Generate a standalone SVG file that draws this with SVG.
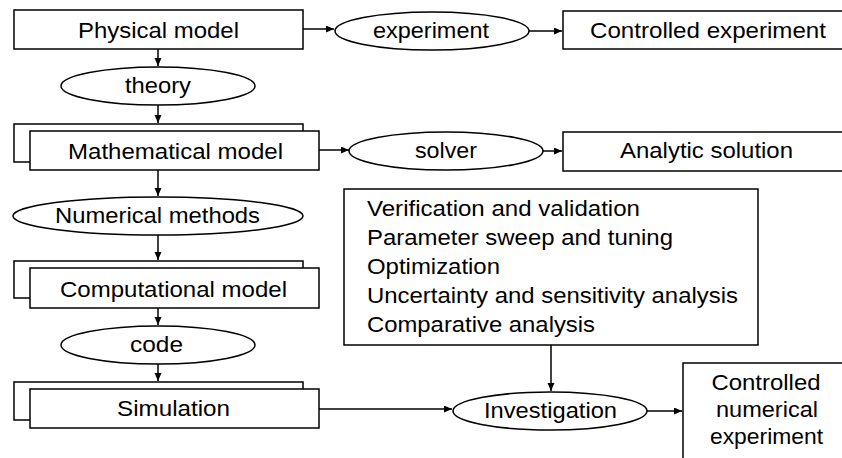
<svg xmlns="http://www.w3.org/2000/svg" width="842" height="458" viewBox="0 0 842 458">
<defs>
<marker id="ah" markerUnits="userSpaceOnUse" markerWidth="9" markerHeight="8" refX="8" refY="3.5" orient="auto">
<path d="M0,0 L8,3.5 L0,7 z" fill="#000"/>
</marker>
<style>
.n rect, .n ellipse { fill: #fff; stroke: #000; stroke-width: 1.5; }
text { font-family: "Liberation Sans", Arial, sans-serif; font-size: 22px; fill: #000; text-anchor: middle; }
text.l { text-anchor: start; }
.c path { fill: none; stroke: #000; stroke-width: 1.5; marker-end: url(#ah); }
</style>
</defs>
<rect x="0" y="0" width="842" height="458" fill="#fff"/>

<g class="c" id="connectors">
<path d="M303,29 H334"/>
<path d="M529,31 H562"/>
<path d="M158,49 V66"/>
<path d="M158,105 V123"/>
<path d="M319,150 H349"/>
<path d="M543,151 H562"/>
<path d="M158,170 V196"/>
<path d="M158,235 V260"/>
<path d="M158,308 V325"/>
<path d="M158,364 V381"/>
<path d="M319,409 H452"/>
<path d="M551,345 V391"/>
<path d="M647,411 H682"/>
</g>

<g class="n" id="physical">
<rect x="14" y="10" width="289" height="39"/>
<text x="158.5" y="38" textLength="161" lengthAdjust="spacingAndGlyphs">Physical model</text>
</g>
<g class="n" id="experiment">
<ellipse cx="432" cy="31" rx="97" ry="19"/>
<text x="431" y="38" textLength="116" lengthAdjust="spacingAndGlyphs">experiment</text>
</g>
<g class="n" id="controlled">
<rect x="563" y="11" width="289" height="38"/>
<text x="708" y="38" textLength="236" lengthAdjust="spacingAndGlyphs">Controlled experiment</text>
</g>
<g class="n" id="theory">
<ellipse cx="158" cy="86" rx="97" ry="19"/>
<text x="158" y="93" textLength="66" lengthAdjust="spacingAndGlyphs">theory</text>
</g>
<g class="n" id="mathematical">
<rect x="14" y="124" width="289" height="38"/>
<rect x="30" y="131" width="289" height="39"/>
<text x="175.5" y="159" textLength="215" lengthAdjust="spacingAndGlyphs">Mathematical model</text>
</g>
<g class="n" id="solver">
<ellipse cx="446" cy="151" rx="97" ry="19"/>
<text x="446" y="158" textLength="62" lengthAdjust="spacingAndGlyphs">solver</text>
</g>
<g class="n" id="analytic">
<rect x="563" y="132" width="289" height="39"/>
<text x="706.5" y="158" textLength="173" lengthAdjust="spacingAndGlyphs">Analytic solution</text>
</g>
<g class="n" id="numerical">
<ellipse cx="158" cy="216" rx="145" ry="19"/>
<text x="157.5" y="223" textLength="205" lengthAdjust="spacingAndGlyphs">Numerical methods</text>
</g>
<g class="n" id="computational">
<rect x="14" y="261" width="289" height="37"/>
<rect x="30" y="268" width="289" height="40"/>
<text x="173.5" y="297" textLength="227" lengthAdjust="spacingAndGlyphs">Computational model</text>
</g>
<g class="n" id="code">
<ellipse cx="158" cy="345" rx="97" ry="19"/>
<text x="156.5" y="352" textLength="53" lengthAdjust="spacingAndGlyphs">code</text>
</g>
<g class="n" id="simulation">
<rect x="14" y="382" width="289" height="38"/>
<rect x="30" y="389" width="289" height="39"/>
<text x="173.5" y="416" textLength="113" lengthAdjust="spacingAndGlyphs">Simulation</text>
</g>
<g class="n" id="tasks">
<rect x="344" y="189" width="414" height="156"/>
<text class="l" x="367" y="216" textLength="273" lengthAdjust="spacingAndGlyphs">Verification and validation</text>
<text class="l" x="367" y="245" textLength="306" lengthAdjust="spacingAndGlyphs">Parameter sweep and tuning</text>
<text class="l" x="367" y="274" textLength="133" lengthAdjust="spacingAndGlyphs">Optimization</text>
<text class="l" x="367" y="303" textLength="371" lengthAdjust="spacingAndGlyphs">Uncertainty and sensitivity analysis</text>
<text class="l" x="367" y="332" textLength="228" lengthAdjust="spacingAndGlyphs">Comparative analysis</text>
</g>
<g class="n" id="investigation">
<ellipse cx="550" cy="411" rx="97" ry="19"/>
<text x="550.5" y="418" textLength="133" lengthAdjust="spacingAndGlyphs">Investigation</text>
</g>
<g class="n" id="controlled-numerical">
<rect x="683" y="363" width="166" height="110"/>
<text x="766" y="390" textLength="109" lengthAdjust="spacingAndGlyphs">Controlled</text>
<text x="767" y="417" textLength="102" lengthAdjust="spacingAndGlyphs">numerical</text>
<text x="766.5" y="444" textLength="113" lengthAdjust="spacingAndGlyphs">experiment</text>
</g>
</svg>
